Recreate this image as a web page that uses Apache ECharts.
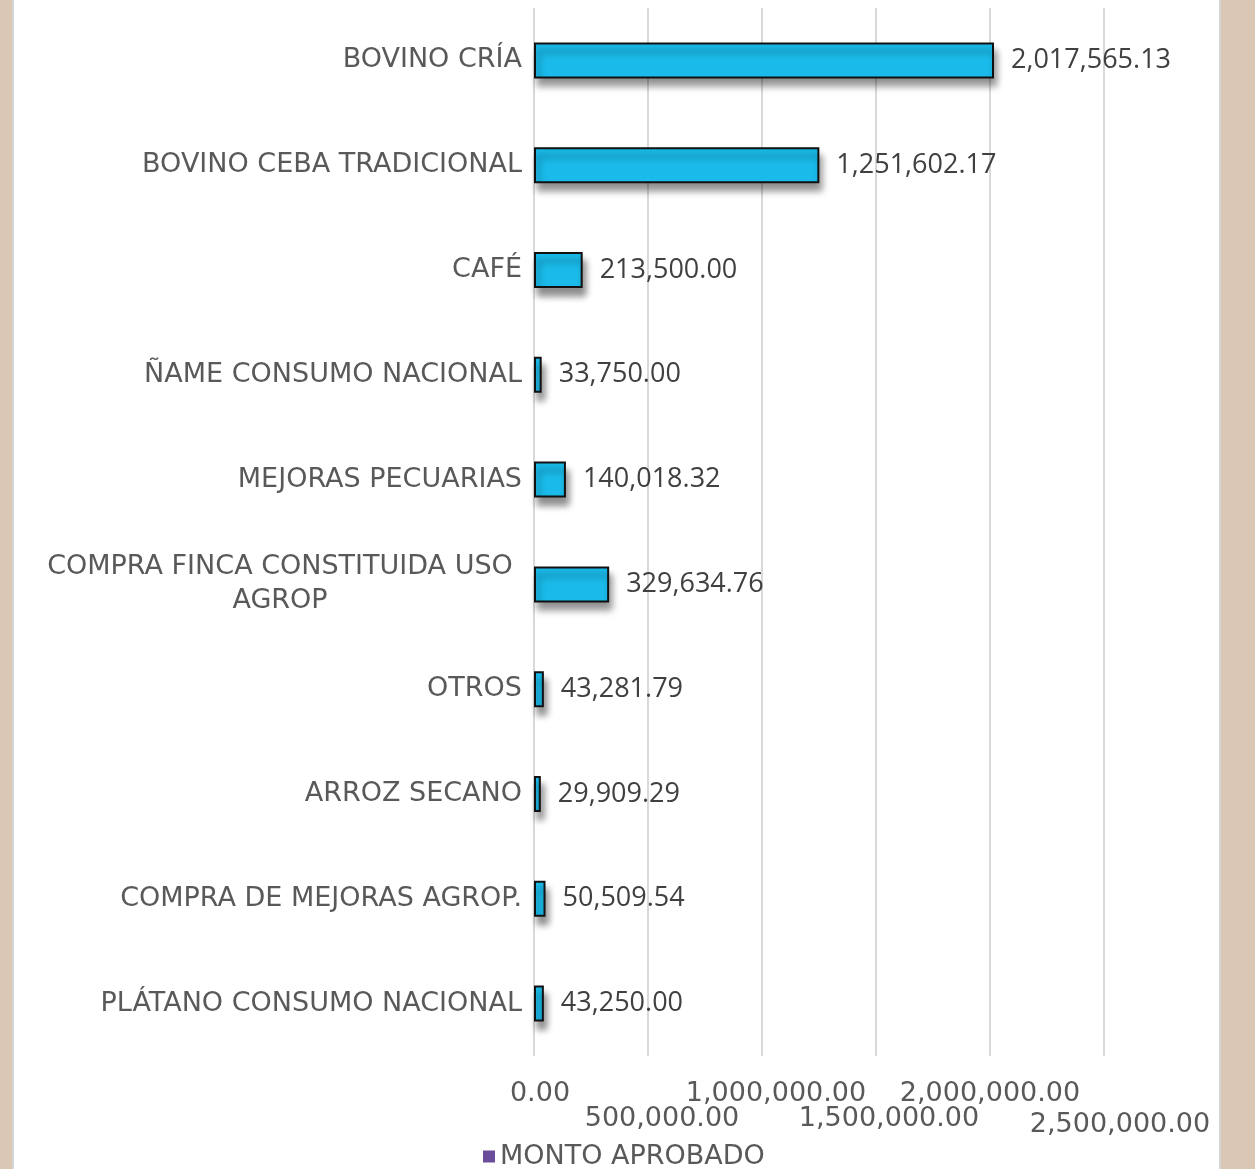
<!DOCTYPE html>
<html>
<head>
<meta charset="utf-8">
<script src="https://cdn.jsdelivr.net/npm/echarts@6/dist/echarts.min.js"></script>
<style>
  html, body { margin: 0; padding: 0; background: #dac8b5; width: 1255px; height: 1169px; overflow: hidden; }
  #panel { position: absolute; left: 12px; top: 0; width: 1209px; height: 1169px; background: #ffffff; border-left: 2px solid #d6d6d6; border-right: 2px solid #d6d6d6; box-sizing: border-box; }
  #chart { position: absolute; left: 0; top: 0; width: 1205px; height: 1169px; }
</style>
</head>
<body>
<div id="panel"><div id="chart"></div></div>
<script>
const categories = [
  'BOVINO CRÍA',
  'BOVINO CEBA TRADICIONAL',
  'CAFÉ',
  'ÑAME CONSUMO NACIONAL',
  'MEJORAS PECUARIAS',
  'COMPRA FINCA CONSTITUIDA USO AGROP',
  'OTROS',
  'ARROZ SECANO',
  'COMPRA DE MEJORAS AGROP.',
  'PLÁTANO CONSUMO NACIONAL'
];
const montoAprobado = [2017565.13, 1251602.17, 213500.00, 33750.00, 140018.32, 329634.76, 43281.79, 29909.29, 50509.54, 43250.00];
const xTicks = [0, 500000, 1000000, 1500000, 2000000, 2500000];
const seriesName = 'MONTO APROBADO';

const fmt = v => v.toLocaleString('en-US', { minimumFractionDigits: 2, maximumFractionDigits: 2 });
const FONT = '"DejaVu Sans", sans-serif';
const VFONT = '"Open Sans", "DejaVu Sans", sans-serif';
const TXT = '#595959';

const chart = echarts.init(document.getElementById('chart'), null, { renderer: 'canvas' });
chart.setOption({
  animation: false,
  textStyle: { fontFamily: FONT },
  grid: { left: 520, right: 115, top: 8, bottom: 113, containLabel: false },
  legend: {
    left: 464, top: 1138,
    icon: 'rect', itemWidth: 12, itemHeight: 12, itemGap: 6,
    textStyle: { fontSize: 27, color: TXT, fontFamily: FONT },
    data: [{ name: seriesName, itemStyle: { color: '#6b4c9a', borderWidth: 0, shadowBlur: 0, shadowOffsetX: 0, shadowOffsetY: 0 } }]
  },
  xAxis: {
    type: 'value',
    min: xTicks[0], max: xTicks[xTicks.length - 1], interval: xTicks[1] - xTicks[0],
    axisLine: { show: false }, axisTick: { show: false },
    splitLine: { show: true, lineStyle: { color: '#d9d9d9', width: 2 } },
    axisLabel: {
      margin: 24,
      color: TXT, fontSize: 27, fontFamily: FONT,
      formatter: function (v) {
        const i = xTicks.indexOf(v);
        return '{t' + i + '|' + fmt(v) + '}';
      },
      rich: {
        t0: { fontSize: 27, color: TXT, fontFamily: FONT, padding: [0, 0, 0, 12] },
        t1: { fontSize: 27, color: TXT, fontFamily: FONT, padding: [25, 0, 0, 28] },
        t2: { fontSize: 27, color: TXT, fontFamily: FONT, padding: [0, 0, 0, 28] },
        t3: { fontSize: 27, color: TXT, fontFamily: FONT, padding: [25, 0, 0, 26] },
        t4: { fontSize: 27, color: TXT, fontFamily: FONT, padding: [0, 0, 0, 0] },
        t5: { fontSize: 27, color: TXT, fontFamily: FONT, padding: [31, 0, 0, 32] }
      }
    }
  },
  yAxis: {
    type: 'category', inverse: true, data: categories,
    axisLine: { show: false }, axisTick: { show: false },
    axisLabel: {
      margin: 12, color: TXT, fontSize: 27, fontFamily: FONT, lineHeight: 34,
      formatter: function (v) {
        if (v === 'COMPRA FINCA CONSTITUIDA USO AGROP') {
          return '{w|COMPRA FINCA CONSTITUIDA USO}\n{w|AGROP}';
        }
        return v;
      },
      rich: {
        w: { width: 484, align: 'center', fontSize: 27, color: TXT, fontFamily: FONT, lineHeight: 34 }
      }
    }
  },
  series: [{
    name: seriesName,
    type: 'bar',
    data: montoAprobado,
    barWidth: 36,
    itemStyle: {
      color: '#1abbea', borderColor: '#111111', borderWidth: 2,
      shadowColor: 'rgba(0,0,0,0.45)', shadowBlur: 7, shadowOffsetX: 3, shadowOffsetY: 8
    },
    label: {
      show: true, position: 'right', distance: 17,
      color: '#404040', fontSize: 27, fontFamily: VFONT,
      formatter: p => fmt(p.value)
    }
  }]
});
</script>
</body>
</html>
